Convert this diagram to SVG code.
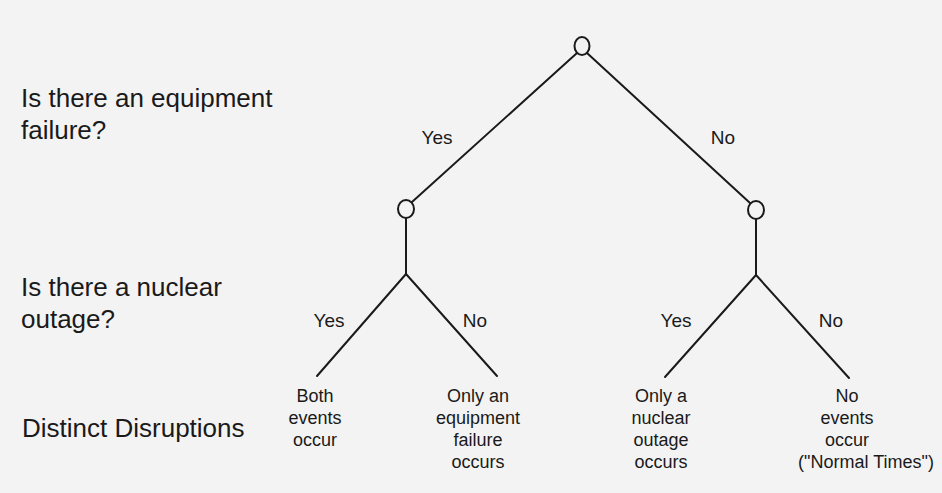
<svg xmlns="http://www.w3.org/2000/svg" width="942" height="493" viewBox="0 0 942 493">
<style>
.bg{fill:#f3f3f3}
.q{font-family:"Liberation Sans",Arial,sans-serif;font-size:26px;fill:#1a1a1a}
.lbl{font-family:"Liberation Sans",Arial,sans-serif;font-size:19px;fill:#1a1a1a;text-anchor:middle}
.leaf{font-family:"Liberation Sans",Arial,sans-serif;font-size:18px;fill:#1a1a1a;text-anchor:middle}
.edge{stroke:#1a1a1a;stroke-width:2;fill:none;stroke-linecap:round}
.node{stroke:#1a1a1a;stroke-width:2;fill:#f3f3f3}
</style>
<rect class="bg" x="0" y="0" width="942" height="493"/>
<g id="questions">
<text class="q" x="21" y="107">Is there an equipment</text>
<text class="q" x="21" y="139">failure?</text>
<text class="q" x="21" y="296">Is there a nuclear</text>
<text class="q" x="21" y="328">outage?</text>
<text class="q" x="22" y="437">Distinct Disruptions</text>
</g>
<g id="connectors">
<line class="edge" x1="577" y1="53" x2="412" y2="202"/>
<line class="edge" x1="587" y1="53" x2="750" y2="203"/>
<line class="edge" x1="406" y1="218" x2="406" y2="274"/>
<line class="edge" x1="406" y1="274" x2="317" y2="376"/>
<line class="edge" x1="406" y1="274" x2="497" y2="376"/>
<line class="edge" x1="756" y1="219" x2="756" y2="275"/>
<line class="edge" x1="756" y1="275" x2="665" y2="377"/>
<line class="edge" x1="756" y1="275" x2="849" y2="378"/>
<text class="lbl" x="437" y="144">Yes</text>
<text class="lbl" x="723" y="144">No</text>
<text class="lbl" x="329" y="327">Yes</text>
<text class="lbl" x="475" y="327">No</text>
<text class="lbl" x="676" y="327">Yes</text>
<text class="lbl" x="831" y="327">No</text>
</g>
<g id="root"><ellipse class="node" cx="582" cy="46" rx="7.5" ry="9"/></g>
<g id="equipYes"><ellipse class="node" cx="406" cy="209" rx="8" ry="9"/></g>
<g id="equipNo"><ellipse class="node" cx="756" cy="210" rx="8" ry="9"/></g>
<g id="leafBoth">
<text class="leaf" x="315" y="402">Both</text>
<text class="leaf" x="315" y="424">events</text>
<text class="leaf" x="315" y="446">occur</text>
</g>
<g id="leafEquip">
<text class="leaf" x="478" y="402">Only an</text>
<text class="leaf" x="478" y="424">equipment</text>
<text class="leaf" x="478" y="446">failure</text>
<text class="leaf" x="478" y="468">occurs</text>
</g>
<g id="leafNuclear">
<text class="leaf" x="661" y="402">Only a</text>
<text class="leaf" x="661" y="424">nuclear</text>
<text class="leaf" x="661" y="446">outage</text>
<text class="leaf" x="661" y="468">occurs</text>
</g>
<g id="leafNone">
<text class="leaf" x="847" y="402">No</text>
<text class="leaf" x="847" y="424">events</text>
<text class="leaf" x="847" y="446">occur</text>
<text class="leaf" x="866" y="468">("Normal Times")</text>
</g>
</svg>
